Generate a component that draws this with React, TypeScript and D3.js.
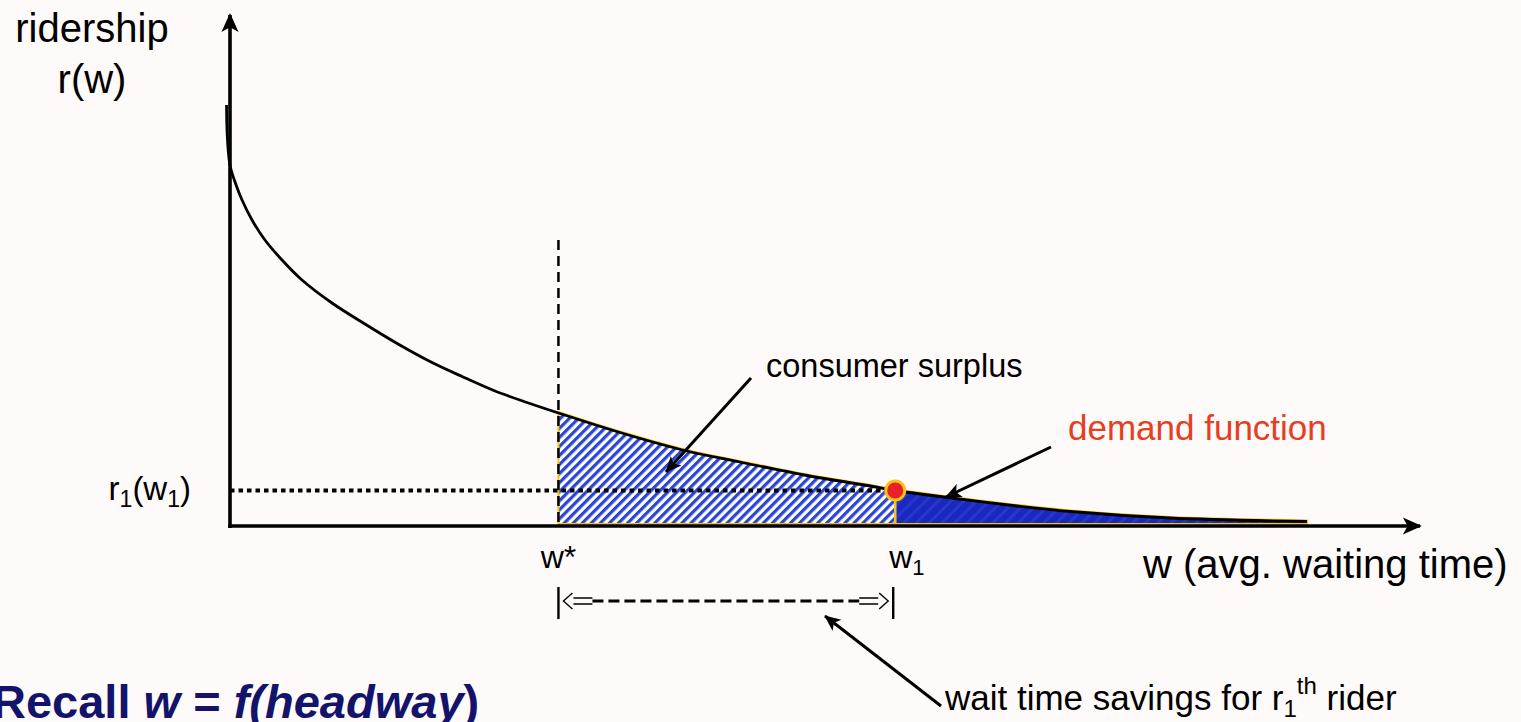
import * as d3 from 'd3'

// demand curve r(w) (w and r in arbitrary units)
const waitTimes = [-0.29, -0.25, -0.13, 0.03, 0.45, 1.01, 1.85, 2.94, 4.37, 6.05, 8.57, 11.34, 14.12, 16.81, 19.5, 22.27, 24.96, 27.6, 32.77, 38.4, 42.86, 48.49, 54.03, 55.9, 59.66, 66.13, 70.59, 78.99, 90.5]
const ridership = [84.2, 79.2, 74.6, 71.8, 68.6, 65.2, 61.2, 57.2, 53.2, 49.2, 44.6, 40.4, 36.4, 32.9, 29.9, 27.0, 24.7, 22.6, 18.7, 15.0, 12.8, 10.1, 7.9, 7.1, 5.9, 4.0, 2.9, 1.6, 0.9]

const wStar = 27.6
const w1 = 55.9
const r1 = 7.1
const guideTop = 57.2 // top of the dashed w* guide
const axisMax = { w: 100, r: 102.2 }

const W = 1521
const H = 722
const FONT = '"Liberation Sans", Arial, Helvetica, sans-serif'

const x = d3.scaleLinear().domain([0, 100]).range([230, 1420])
const y = d3.scaleLinear().domain([0, 100]).range([526, 26])

type Pt = [number, number]
const points: Pt[] = waitTimes.map((w, i) => [w, ridership[i]])

const smooth = d3.curveCatmullRom.alpha(0.5)

const line = d3
  .line<Pt>()
  .x(d => x(d[0]))
  .y(d => y(d[1]))
  .curve(smooth)

const area = d3
  .area<Pt>()
  .x(d => x(d[0]))
  .y0(y(0) - 1)
  .y1(d => y(d[1]))
  .curve(smooth)

const hatched = points.filter(p => p[0] >= wStar && p[0] <= w1)
const solid = points.filter(p => p[0] >= w1)

// hollow double arrow like ⇐ / ⇒
function doubleArrow(x0: number, x1: number, cy: number, dir: 1 | -1) {
  const tip = dir < 0 ? x0 : x1
  const back = dir < 0 ? x1 : x0
  const h = tip - dir * 10
  return `M${h},${cy - 3}L${back},${cy - 3}M${h},${cy + 3}L${back},${cy + 3}M${tip - dir * 9},${cy - 8}L${tip},${cy}L${tip - dir * 9},${cy + 8}`
}

export default function App() {
  const bracketY = 601
  const bx0 = x(wStar)
  const bx1 = x(w1)

  return (
    <svg
      width={W}
      height={H}
      viewBox={`0 0 ${W} ${H}`}
      style={{ position: 'absolute', left: 0, top: 0, background: '#fdfaf9', fontFamily: FONT }}
    >
      <defs>
        <pattern id="hatch" patternUnits="userSpaceOnUse" width="6.4" height="6.4" patternTransform="rotate(45)">
          <rect width="6.4" height="6.4" fill="#ffffff" />
          <rect width="3.2" height="6.4" fill="#2a44d4" />
        </pattern>
        <pattern id="dark" patternUnits="userSpaceOnUse" width="9" height="9" patternTransform="rotate(45)">
          <rect width="9" height="9" fill="#1a28c0" />
          <rect width="3" height="9" fill="#2439cc" />
        </pattern>
        <marker id="axisHead" viewBox="0 0 20 20" refX="18" refY="10" markerUnits="userSpaceOnUse" markerWidth="22" markerHeight="19" orient="auto">
          <path d="M0,1 L20,10 L0,19 L5,10 Z" fill="#000" />
        </marker>
        <marker id="head" viewBox="0 0 20 20" refX="19" refY="10" markerUnits="userSpaceOnUse" markerWidth="18" markerHeight="16" orient="auto">
          <path d="M0,1 L20,10 L0,19 L5,10 Z" fill="#000" />
        </marker>
      </defs>

      {/* shaded regions */}
      <g transform="translate(0,-1)">
        <path d={area(hatched) ?? ''} fill="url(#hatch)" stroke="#f6c314" strokeWidth={2} />
        <path d={area(solid) ?? ''} fill="url(#dark)" stroke="#f6c314" strokeWidth={2.2} />
      </g>

      {/* r1(w1) dotted guide */}
      <line x1={x(0)} x2={x(w1) - 6} y1={y(r1)} y2={y(r1)} stroke="#000" strokeWidth={4} strokeDasharray="4.5 4" />
      {/* w* dashed guide */}
      <line x1={x(wStar)} x2={x(wStar)} y1={y(guideTop)} y2={y(0)} stroke="#000" strokeWidth={2.5} strokeDasharray="10 6" />

      {/* demand curve */}
      <path d={line(points) ?? ''} fill="none" stroke="#000" strokeWidth={2.8} />

      {/* axes */}
      <line x1={x(0)} x2={x(0)} y1={y(0) + 2} y2={y(axisMax.r)} stroke="#000" strokeWidth={3.6} markerEnd="url(#axisHead)" />
      <line x1={x(0) - 1.8} x2={x(axisMax.w)} y1={y(0)} y2={y(0)} stroke="#000" strokeWidth={3.6} markerEnd="url(#axisHead)" />

      {/* current point */}
      <line x1={x(w1)} x2={x(w1)} y1={y(r1)} y2={y(0) - 2} stroke="#f6c314" strokeWidth={2.2} />
      <circle cx={x(w1)} cy={y(r1)} r={9.5} fill="#e8202a" stroke="#f6c314" strokeWidth={3} />

      {/* axis titles */}
      <text x={92} y={42} fontSize={40} textAnchor="middle">ridership</text>
      <text x={92} y={93} fontSize={40} textAnchor="middle">r(w)</text>
      <text x={1143} y={578} fontSize={40}>w (avg. waiting time)</text>

      {/* point labels */}
      <text x={191} y={500} fontSize={33} textAnchor="end">
        r<tspan fontSize={23} dy={7}>1</tspan>
        <tspan dy={-7}>(w</tspan>
        <tspan fontSize={23} dy={7}>1</tspan>
        <tspan dy={-7}>)</tspan>
      </text>
      <text x={x(wStar)} y={568} fontSize={32} textAnchor="middle">w*</text>
      <text x={x(w1) - 6} y={568} fontSize={32}>
        w<tspan fontSize={22} dy={7}>1</tspan>
      </text>

      {/* annotations */}
      <text x={766} y={377} fontSize={32.5}>consumer surplus</text>
      <line x1={751} y1={378} x2={666} y2={472} stroke="#000" strokeWidth={3} markerEnd="url(#head)" />

      <text x={1068} y={440} fontSize={35} fill="#e63e1e">demand function</text>
      <line x1={1051} y1={447} x2={946} y2={497} stroke="#000" strokeWidth={3} markerEnd="url(#head)" />

      {/* wait-time savings bracket */}
      <line x1={bx0} x2={bx0} y1={bracketY - 14} y2={bracketY + 18} stroke="#000" strokeWidth={2.4} />
      <line x1={bx1 - 2} x2={bx1 - 2} y1={bracketY - 14} y2={bracketY + 18} stroke="#000" strokeWidth={2.4} />
      <path d={doubleArrow(bx0 + 5, bx0 + 34, bracketY, -1)} fill="none" stroke="#000" strokeWidth={1.4} />
      <path d={doubleArrow(bx1 - 36, bx1 - 7, bracketY, 1)} fill="none" stroke="#000" strokeWidth={1.4} />
      <line x1={bx0 + 34} x2={bx1 - 36} y1={bracketY} y2={bracketY} stroke="#000" strokeWidth={3.2} strokeDasharray="11 5" />

      <text x={945} y={710} fontSize={35}>
        wait time savings for r<tspan fontSize={24} dy={7}>1</tspan>
        <tspan fontSize={24} dy={-23}>th</tspan>
        <tspan dy={16}> rider</tspan>
      </text>
      <line x1={941} y1={706} x2={825} y2={616} stroke="#000" strokeWidth={3} markerEnd="url(#head)" />

      <text x={-8} y={718} fontSize={47} fontWeight="bold" fill="#13136b">
        Recall <tspan fontStyle="italic">w</tspan> = <tspan fontStyle="italic">f(headway</tspan>)
      </text>
    </svg>
  )
}
